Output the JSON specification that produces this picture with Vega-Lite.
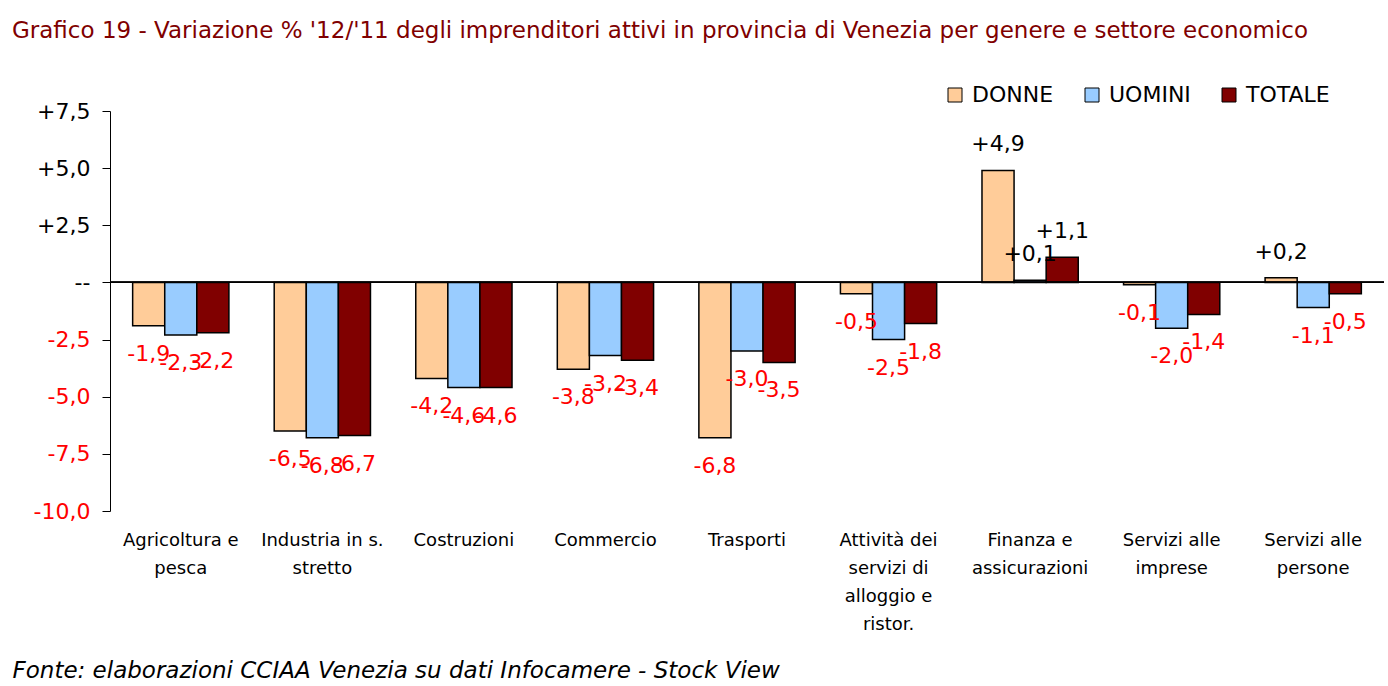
{
  "$schema": "https://vega.github.io/schema/vega-lite/v6.json",
  "width": 1274,
  "height": 400,
  "autosize": {"type": "none"},
  "padding": {"left": 110, "top": 111, "right": 4, "bottom": 175},
  "background": "white",
  "title": {
    "text": "Grafico 19 - Variazione % '12/'11 degli imprenditori attivi in provincia di Venezia per genere e settore economico",
    "anchor": "start",
    "frame": "group",
    "dx": -98,
    "color": "#800000",
    "font": "DejaVu Sans",
    "fontSize": 23,
    "fontWeight": "normal",
    "baseline": "middle",
    "offset": 30
  },
  "config": {
    "view": {"stroke": null},
    "font": "DejaVu Sans"
  },
  "data": {
    "values": [
      {"cat": "Agricoltura e|pesca", "serie": "DONNE", "v": -1.9},
      {"cat": "Agricoltura e|pesca", "serie": "UOMINI", "v": -2.3},
      {"cat": "Agricoltura e|pesca", "serie": "TOTALE", "v": -2.2},
      {"cat": "Industria in s.|stretto", "serie": "DONNE", "v": -6.5},
      {"cat": "Industria in s.|stretto", "serie": "UOMINI", "v": -6.8},
      {"cat": "Industria in s.|stretto", "serie": "TOTALE", "v": -6.7},
      {"cat": "Costruzioni", "serie": "DONNE", "v": -4.2},
      {"cat": "Costruzioni", "serie": "UOMINI", "v": -4.6},
      {"cat": "Costruzioni", "serie": "TOTALE", "v": -4.6},
      {"cat": "Commercio", "serie": "DONNE", "v": -3.8},
      {"cat": "Commercio", "serie": "UOMINI", "v": -3.2},
      {"cat": "Commercio", "serie": "TOTALE", "v": -3.4},
      {"cat": "Trasporti", "serie": "DONNE", "v": -6.8},
      {"cat": "Trasporti", "serie": "UOMINI", "v": -3.0},
      {"cat": "Trasporti", "serie": "TOTALE", "v": -3.5},
      {"cat": "Attività dei|servizi di|alloggio e|ristor.", "serie": "DONNE", "v": -0.5},
      {"cat": "Attività dei|servizi di|alloggio e|ristor.", "serie": "UOMINI", "v": -2.5},
      {"cat": "Attività dei|servizi di|alloggio e|ristor.", "serie": "TOTALE", "v": -1.8},
      {"cat": "Finanza e|assicurazioni", "serie": "DONNE", "v": 4.9},
      {"cat": "Finanza e|assicurazioni", "serie": "UOMINI", "v": 0.1},
      {"cat": "Finanza e|assicurazioni", "serie": "TOTALE", "v": 1.1},
      {"cat": "Servizi alle|imprese", "serie": "DONNE", "v": -0.1},
      {"cat": "Servizi alle|imprese", "serie": "UOMINI", "v": -2.0},
      {"cat": "Servizi alle|imprese", "serie": "TOTALE", "v": -1.4},
      {"cat": "Servizi alle|persone", "serie": "DONNE", "v": 0.2},
      {"cat": "Servizi alle|persone", "serie": "UOMINI", "v": -1.1},
      {"cat": "Servizi alle|persone", "serie": "TOTALE", "v": -0.5}
    ]
  },
  "transform": [
    {"calculate": "(datum.v > 0 ? '+' : '-') + replace(format(abs(datum.v), '.1f'), '.', ',')", "as": "lab"}
  ],
  "encoding": {
    "x": {
      "field": "cat",
      "type": "nominal",
      "sort": null,
      "scale": {"paddingInner": 0.32, "paddingOuter": 0.16},
      "axis": {
        "domain": false,
        "ticks": false,
        "labelAngle": 0,
        "labelExpr": "split(datum.label, '|')",
        "labelFontSize": 18,
        "labelLineHeight": 28,
        "labelColor": "black",
        "labelPadding": 20,
        "labelBaseline": "top",
        "labelAlign": "center",
        "labelLimit": 200,
        "title": "Fonte: elaborazioni CCIAA Venezia su dati Infocamere - Stock View",
        "titleFontStyle": "italic",
        "titleFontWeight": "normal",
        "titleFontSize": 23,
        "titleColor": "black",
        "titleAnchor": "start",
        "titleAlign": "left",
        "titleX": -98,
        "titleY": 159,
        "titleBaseline": "middle"
      }
    },
    "xOffset": {"field": "serie", "type": "nominal", "sort": ["DONNE", "UOMINI", "TOTALE"]},
    "y": {
      "field": "v",
      "type": "quantitative",
      "scale": {"domain": [-10, 7.5], "nice": false, "zero": false},
      "axis": {
        "values": [-10, -7.5, -5, -2.5, 0, 2.5, 5, 7.5],
        "grid": false,
        "title": null,
        "domainColor": "black",
        "tickColor": "black",
        "tickSize": 8,
        "labelFontSize": 22,
        "labelPadding": 12,
        "labelExpr": "datum.value == 0 ? '--' : (datum.value > 0 ? '+' : '-') + replace(format(abs(datum.value), '.1f'), '.', ',')",
        "labelColor": {"condition": {"test": "datum.value < 0", "value": "#FF0000"}, "value": "black"}
      }
    }
  },
  "layer": [
    {
      "mark": {"type": "bar", "stroke": "black", "strokeWidth": 1.5},
      "encoding": {
        "color": {
          "field": "serie",
          "type": "nominal",
          "sort": ["DONNE", "UOMINI", "TOTALE"],
          "scale": {"domain": ["DONNE", "UOMINI", "TOTALE"], "range": ["#FFCC99", "#99CCFF", "#800000"]},
          "legend": {
            "title": null,
            "orient": "none",
            "direction": "horizontal",
            "legendX": 834,
            "legendY": -27,
            "symbolType": "square",
            "symbolSize": 196,
            "symbolStrokeColor": "black",
            "symbolStrokeWidth": 1,
            "labelFontSize": 22,
            "labelColor": "black",
            "columnPadding": 27,
            "labelOffset": 6
          }
        }
      }
    },
    {
      "transform": [{"filter": "datum.v > 0"}],
      "mark": {"type": "text", "fontSize": 22, "dy": -26, "baseline": "middle", "color": "black"},
      "encoding": {"text": {"field": "lab"}}
    },
    {
      "transform": [{"filter": "datum.v < 0"}],
      "mark": {"type": "text", "fontSize": 22, "dy": 28, "baseline": "middle", "color": "#FF0000"},
      "encoding": {"text": {"field": "lab"}}
    },
    {
      "mark": {"type": "rule", "color": "black", "strokeWidth": 1},
      "encoding": {"y": {"datum": 0}, "x": null, "xOffset": null}
    }
  ]
}
